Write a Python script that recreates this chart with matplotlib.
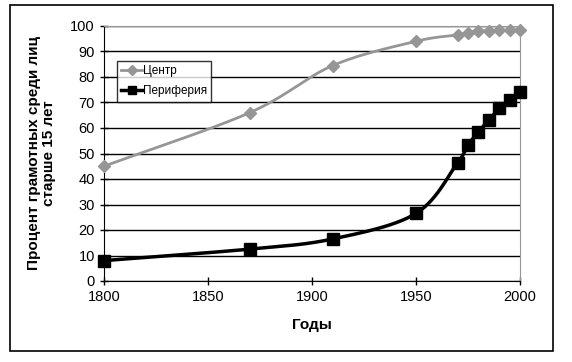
import numpy as np
import matplotlib
matplotlib.use("Agg")
import matplotlib.pyplot as plt
from matplotlib.patches import Rectangle

plt.rcParams['font.family'] = ['Liberation Sans', 'DejaVu Sans']

years_center = [1800, 1870, 1910, 1950, 1970, 1975, 1980, 1985, 1990, 1995, 2000]
center = [45, 66, 84.5, 94, 96.5, 97.4, 97.9, 98.2, 98.3, 98.3, 98.3]
years_periph = [1800, 1870, 1910, 1950, 1970, 1975, 1980, 1985, 1990, 1995, 2000]
periphery = [8, 12.5, 16.5, 26.5, 46.4, 53.3, 58.5, 63.1, 67.7, 71, 74.2]
xticks = [1800, 1850, 1900, 1950, 2000]
yticks = list(range(0, 101, 10))


def smooth(x, y, n=30):
    # Catmull-Rom style smoothing (as Excel "smoothed line") for rendering
    x = np.asarray(x, float); y = np.asarray(y, float)
    px = np.concatenate([[2 * x[0] - x[1]], x, [2 * x[-1] - x[-2]]])
    py = np.concatenate([[2 * y[0] - y[1]], y, [2 * y[-1] - y[-2]]])
    ox, oy = [], []
    t = np.linspace(0, 1, n)
    for i in range(1, len(px) - 2):
        p0x, p1x, p2x, p3x = px[i - 1:i + 3]
        p0y, p1y, p2y, p3y = py[i - 1:i + 3]
        m1x = (p2x - p0x) / 6; m2x = (p3x - p1x) / 6
        m1y = (p2y - p0y) / 6; m2y = (p3y - p1y) / 6
        b0 = (1 - t) ** 3; b1 = 3 * (1 - t) ** 2 * t; b2 = 3 * (1 - t) * t ** 2; b3 = t ** 3
        ox.extend(b0 * p1x + b1 * (p1x + m1x) + b2 * (p2x - m2x) + b3 * p2x)
        oy.extend(b0 * p1y + b1 * (p1y + m1y) + b2 * (p2y - m2y) + b3 * p2y)
    return ox, oy


fig = plt.figure(figsize=(5.72, 3.62), dpi=100)
fig.patches.append(Rectangle((10 / 572, 1 - 351 / 362), 543 / 572, 346 / 362,
                             transform=fig.transFigure, fill=False,
                             edgecolor='black', linewidth=1.2))
ax = fig.add_axes([104 / 572, 1 - 281 / 362, 416 / 572, 255 / 362])

gray = '#969696'
sx, sy = smooth(years_center, center)
ax.plot(sx, sy, color=gray, linewidth=2, zorder=3)
ax.plot(years_center, center, linestyle='none', marker='D', markersize=6.5,
        color=gray, zorder=4)
ax.plot([], [], color=gray, linewidth=2, marker='D', markersize=5, label='Центр')

sx, sy = smooth(years_periph, periphery)
ax.plot(sx, sy, color='black', linewidth=2.5, zorder=3)
ax.plot(years_periph, periphery, linestyle='none', marker='s', markersize=8,
        color='black', zorder=4)
ax.plot([], [], color='black', linewidth=2.5, marker='s', markersize=6, label='Периферия')

ax.set_xlim(1800, 2000)
ax.set_ylim(0, 100)
ax.set_xticks(xticks)
ax.set_yticks(yticks)
ax.tick_params(axis='both', labelsize=10.5, direction='inout', length=6, width=1)
ax.yaxis.grid(True, color='black', linewidth=1)
ax.set_axisbelow(True)
for s in ['top', 'right']:
    ax.spines[s].set_color(gray)
for s in ['left', 'bottom']:
    ax.spines[s].set_color('black')
for line in ax.lines:
    line.set_clip_on(False)

ax.set_xlabel('Годы', fontsize=11, fontweight='bold', labelpad=10)
ax.set_ylabel('Процент грамотных среди лиц\nстарше 15 лет', fontsize=11,
              fontweight='bold', labelpad=10, linespacing=1.15)

leg = ax.legend(loc='upper left', bbox_to_anchor=(13 / 416, 1 - 35 / 255),
                fontsize=8.5, frameon=True, fancybox=False, handlelength=1.8,
                handletextpad=0.05, borderpad=0.35, labelspacing=0.7,
                borderaxespad=0)
leg.get_frame().set_edgecolor('black')
leg.get_frame().set_linewidth(1)

fig.savefig('out.png', dpi=100)
